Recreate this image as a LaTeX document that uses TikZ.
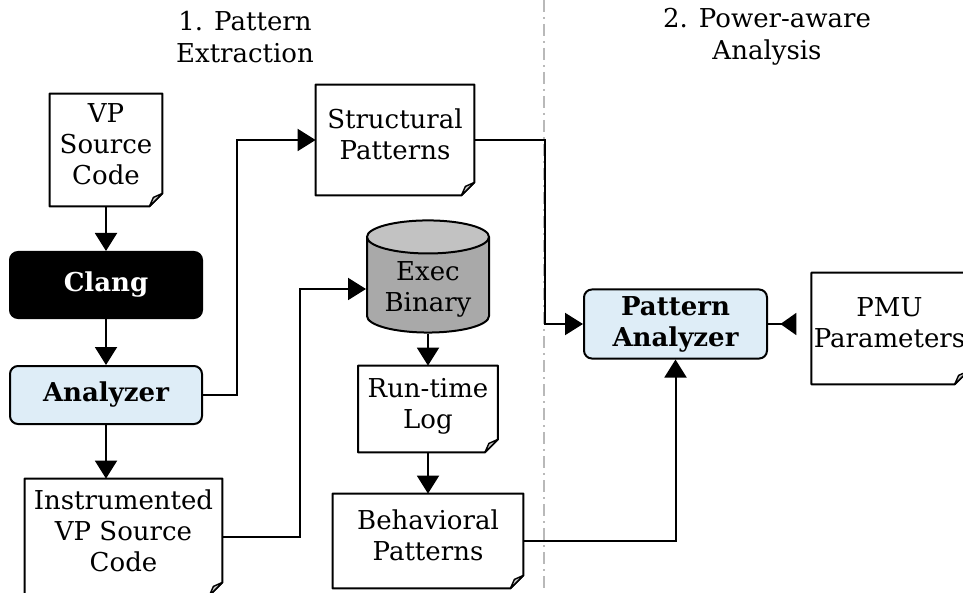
\documentclass[tikz,border=0pt]{standalone}
\usepackage{fontspec}
\setmainfont{DejaVu Serif}
\usetikzlibrary{arrows.meta}
\usetikzlibrary{shapes.geometric}
\usetikzlibrary{positioning}

\definecolor{anablue}{HTML}{DEEDF7}
\definecolor{cylbody}{HTML}{A9A9A9}
\definecolor{cyltop}{HTML}{C2C2C2}
\definecolor{flapgray}{HTML}{C8C8C8}

\newcommand\txtsize{\fontsize{13}{15.5}\selectfont}

% page with a folded corner, drawn round a named node
\newcommand\dogear[1]{%
  \draw [line width=1pt, line join=round] (#1.north west) -- (#1.north east)
    -- ([yshift=6.5pt]#1.south east) -- ([xshift=-6.5pt]#1.south east)
    -- (#1.south west) -- cycle;
  \filldraw [fill=flapgray, line width=0.7pt, line join=round]
    ([yshift=6.5pt]#1.south east) -- ([xshift=-6.5pt]#1.south east)
    -- ([xshift=-4.5pt,yshift=4.5pt]#1.south east) -- cycle;
}

\tikzset{
  doc/.style={rectangle, inner sep=1pt, align=center, font=\txtsize, text depth=6pt,
    append after command={\pgfextra{\dogear{\tikzlastnode}}}},
  tool/.style={rectangle, rounded corners=4pt, draw, line width=1pt, align=center,
    font=\txtsize\bfseries},
  store/.style={cylinder, shape border rotate=90, aspect=0.33, draw, line width=1pt,
    cylinder uses custom fill, cylinder body fill=cylbody, cylinder end fill=cyltop,
    align=center, font=\txtsize},
  phase/.style={align=center, font=\fontsize{13}{16}\selectfont},
  arr/.style={line width=1pt, -{Triangle[length=9pt,width=11pt]}},
}

\begin{document}
\begin{tikzpicture}[x=0.5pt, y=-0.5pt]
  \useasboundingbox (0,0) rectangle (963,593);

  % phase divider
  \draw [gray!55, line width=0.6pt, dash pattern=on 6pt off 2.5pt on 1pt off 2.5pt]
    (544,0) -- (544,593);

  \node [phase] (phase1) at (245,37) {1. Pattern\\Extraction};
  \node [phase] (phase2) at (767,37) {2. Power-aware\\Analysis};

  % 1. pattern extraction
  \node [doc, minimum width=56pt, minimum height=56pt] (vpsrc) at (106,150) {VP\\Source\\Code};
  \node [tool, fill=black, text=white, minimum width=96pt, minimum height=33pt] (clang) at (106,285) {Clang};
  \node [tool, fill=anablue, minimum width=96pt, minimum height=29pt] (analyzer) at (106,395) {Analyzer};
  \node [doc, minimum width=98.5pt, minimum height=58pt] (instsrc) at (123.5,537) {Instrumented\\VP Source\\Code};
  \node [doc, minimum width=79pt, minimum height=55pt] (structpat) at (395,140) {Structural\\Patterns};
  \node [store, minimum width=61pt, minimum height=37pt] (execbin) at (428,289) {Exec\\Binary};
  \node [doc, minimum width=69.5pt, minimum height=43pt] (runlog) at (428,409) {Run-time\\Log};
  \node [doc, minimum width=95pt, minimum height=47pt] (behavpat) at (428,541) {Behavioral\\Patterns};

  % 2. power-aware analysis
  \node [tool, fill=anablue, minimum width=91.5pt, minimum height=34pt] (patana) at (675.5,324) {Pattern\\Analyzer};
  \node [doc, minimum width=76.5pt, minimum height=55.5pt] (pmu) at (889.5,328.5) {PMU\\Parameters};

  \draw [arr] (vpsrc.south) -- (clang.north);
  \draw [arr] (clang.south) -- (analyzer.north);
  \draw [arr] (analyzer.south) -- (analyzer.south |- instsrc.north);
  \draw [arr] (analyzer.east) -- ++(34,0) |- (structpat.west);
  \draw [arr] (instsrc.east) -- ++(78,0) |- (execbin.west);
  \draw [arr] (execbin.south) -- (runlog.north);
  \draw [arr] (runlog.south) -- (behavpat.north);
  \draw [arr] (structpat.east) -- ++(71,0) |- (patana.west);
  \draw [arr] (behavpat.east) -| (patana.south);
  \draw [line width=1pt, -{Triangle[length=8pt,width=11pt,reversed]}, shorten >=7.5pt]
    (patana.east) -- (patana.east -| pmu.west);
\end{tikzpicture}
\end{document}
